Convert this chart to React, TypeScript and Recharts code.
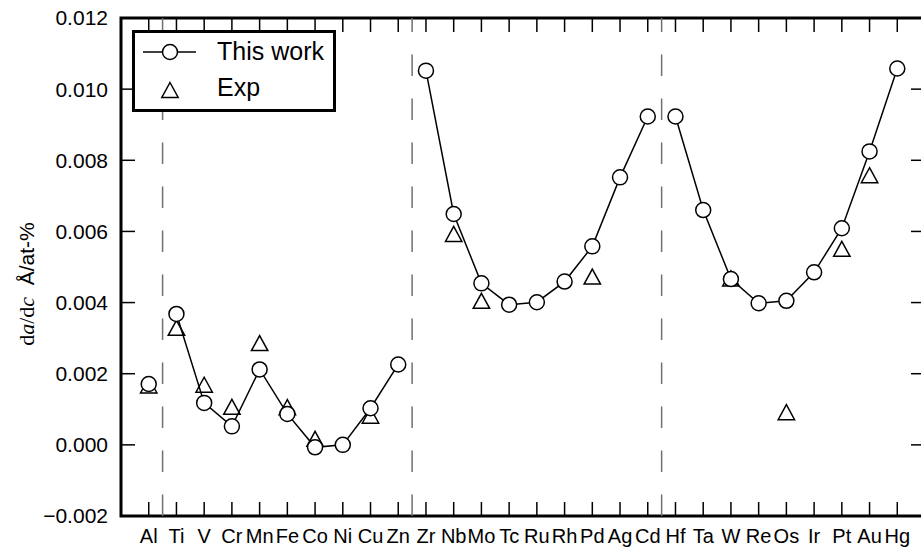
import React from "react";
import {
  ComposedChart,
  Line,
  Scatter,
  XAxis,
  YAxis,
  ReferenceLine,
  ReferenceArea,
  Legend,
} from "recharts";

const elements = [
  "Al", "Ti", "V", "Cr", "Mn", "Fe", "Co", "Ni", "Cu", "Zn",
  "Zr", "Nb", "Mo", "Tc", "Ru", "Rh", "Pd", "Ag", "Cd",
  "Hf", "Ta", "W", "Re", "Os", "Ir", "Pt", "Au", "Hg",
];

// da/dc, this work
const thisWork = [
  0.00171, 0.00368, 0.00118, 0.00052, 0.00212, 0.00087, -0.00007, 0.0, 0.00103, 0.00226,
  0.01052, 0.00649, 0.00454, 0.00394, 0.00401, 0.00459, 0.00558, 0.00752, 0.00923,
  0.00923, 0.0066, 0.00466, 0.00398, 0.00405, 0.00485, 0.00609, 0.00825, 0.01058,
];

// experiment (null = no value)
const expValues = [
  0.00167, 0.00329, 0.00169, 0.00107, 0.00286, 0.00106, 0.00017, null, 0.00082, null,
  null, 0.00593, 0.00405, null, null, null, 0.00473, null, null,
  null, null, 0.00468, null, 0.00092, null, 0.00551, 0.00758, null,
];

// the line is broken at these positions (group boundaries)
const dividers = [0.5, 9.5, 18.5];

const xDomain: [number, number] = [-1, 28];
const yDomain: [number, number] = [-0.002, 0.012];
const yTicks = [-0.002, 0, 0.002, 0.004, 0.006, 0.008, 0.01, 0.012];
const xTicks = elements.map((_, i) => i);

const SANS = "'Liberation Sans', Arial, Helvetica, sans-serif";
const SERIF = "'Liberation Serif', 'Times New Roman', serif";

const lineRows = [
  ...elements.map((name, i) => ({ x: i, name, work: thisWork[i] as number | null })),
  ...dividers.map((d) => ({ x: d, name: "", work: null })),
].sort((a, b) => a.x - b.x);

const expRows = elements
  .map((name, i) => ({ x: i, name, exp: expValues[i] }))
  .filter((r) => r.exp !== null);

function fmtY(v: number) {
  const s = Math.abs(v).toFixed(3);
  return v < -1e-9 ? "\u2212" + s : s;
}

function Triangle(props: any) {
  const { cx, cy } = props;
  if (cx == null || cy == null) return null;
  const h = 7.5;
  const w = 8.2;
  return (
    <path
      d={`M${cx},${cy - h} L${cx + w},${cy + h} L${cx - w},${cy + h} Z`}
      fill="none"
      stroke="#000"
      strokeWidth={1.5}
    />
  );
}

function LegendBox() {
  return (
    <svg width={204} height={82} style={{ display: "block" }}>
      <rect x={1.5} y={1.5} width={201} height={79} fill="#fff" stroke="#000" strokeWidth={3} />
      <line x1={11} y1={22} x2={64} y2={22} stroke="#000" strokeWidth={1.5} />
      <circle cx={38} cy={22} r={7.5} fill="#fff" stroke="#000" strokeWidth={1.5} />
      <text x={85} y={30} fontFamily={SANS} fontSize={25} fill="#000">
        This work
      </text>
      <Triangle cx={38} cy={60} />
      <text x={85} y={66} fontFamily={SANS} fontSize={25} fill="#000">
        Exp
      </text>
    </svg>
  );
}

function YLabel() {
  return (
    <text
      x={34}
      y={284}
      transform="rotate(-90, 34, 284)"
      textAnchor="middle"
      fill="#000"
    >
      <tspan fontFamily={SERIF} fontSize={22}>d</tspan>
      <tspan fontFamily={SERIF} fontSize={22} fontStyle="italic">a</tspan>
      <tspan fontFamily={SERIF} fontSize={22}>/d</tspan>
      <tspan fontFamily={SERIF} fontSize={22} fontStyle="italic">c</tspan>
      <tspan fontFamily={SANS} fontSize={21}>{"\u00a0\u00a0\u00c5/at-%"}</tspan>
    </text>
  );
}

export default function App() {
  const tickLine = { stroke: "#000", strokeWidth: 1.5 };
  return (
    <div
      style={{
        position: "absolute",
        left: 0,
        top: 0,
        width: 921,
        height: 554,
        overflow: "hidden",
        background: "#fff",
      }}
    >
      <ComposedChart
        width={930}
        height={554}
        data={lineRows}
        margin={{ top: 17, right: 4, left: 0, bottom: 0 }}
      >
        <XAxis
          type="number"
          dataKey="x"
          domain={xDomain}
          ticks={xTicks}
          interval={0}
          allowDataOverflow
          tickFormatter={(v: number) => elements[v] ?? ""}
          height={38}
          tickSize={-14}
          tickMargin={27}
          tickLine={tickLine}
          axisLine={false}
          tick={{ fill: "#000", fontSize: 20, fontFamily: SANS }}
        />
        <XAxis
          xAxisId="top"
          orientation="top"
          type="number"
          dataKey="x"
          domain={xDomain}
          ticks={xTicks}
          interval={0}
          allowDataOverflow
          tickFormatter={() => ""}
          height={1}
          tickSize={-14}
          tickLine={tickLine}
          axisLine={false}
        />
        <YAxis
          type="number"
          domain={yDomain}
          ticks={yTicks}
          interval={0}
          allowDataOverflow
          tickFormatter={fmtY}
          width={121}
          tickSize={-14}
          tickMargin={27}
          tickLine={tickLine}
          axisLine={false}
          tick={{ fill: "#000", fontSize: 21, fontFamily: SANS }}
          label={{ content: () => <YLabel /> }}
        />
        <YAxis
          yAxisId="right"
          orientation="right"
          type="number"
          domain={yDomain}
          ticks={yTicks}
          interval={0}
          allowDataOverflow
          tickFormatter={() => ""}
          width={1}
          tickSize={-14}
          tickLine={tickLine}
          axisLine={false}
        />
        {dividers.map((d) => (
          <ReferenceLine
            key={d}
            x={d}
            stroke="#707070"
            strokeWidth={1.5}
            strokeDasharray="21.5 22.5"
          />
        ))}
        <Line
          xAxisId="top"
          yAxisId="right"
          dataKey="work"
          stroke="none"
          dot={false}
          activeDot={false}
          legendType="none"
          isAnimationActive={false}
        />
        <Line
          type="linear"
          dataKey="work"
          name="This work"
          stroke="#000"
          strokeWidth={1.5}
          connectNulls={false}
          dot={{ r: 7.5, fill: "#fff", stroke: "#000", strokeWidth: 1.5 }}
          activeDot={false}
          isAnimationActive={false}
        />
        <Scatter
          data={expRows}
          dataKey="exp"
          name="Exp"
          shape={(p: any) => <Triangle {...p} />}
          isAnimationActive={false}
        />
        <ReferenceArea
          x1={xDomain[0]}
          x2={xDomain[1]}
          y1={yDomain[0]}
          y2={yDomain[1]}
          fill="none"
          fillOpacity={0}
          stroke="#000"
          strokeWidth={3}
          ifOverflow="visible"
        />
        <Legend
          layout="horizontal"
          verticalAlign="middle"
          align="center"
          content={() => <LegendBox />}
          wrapperStyle={{ left: 132, top: 30, width: 204, height: 82 }}
        />
      </ComposedChart>
    </div>
  );
}
